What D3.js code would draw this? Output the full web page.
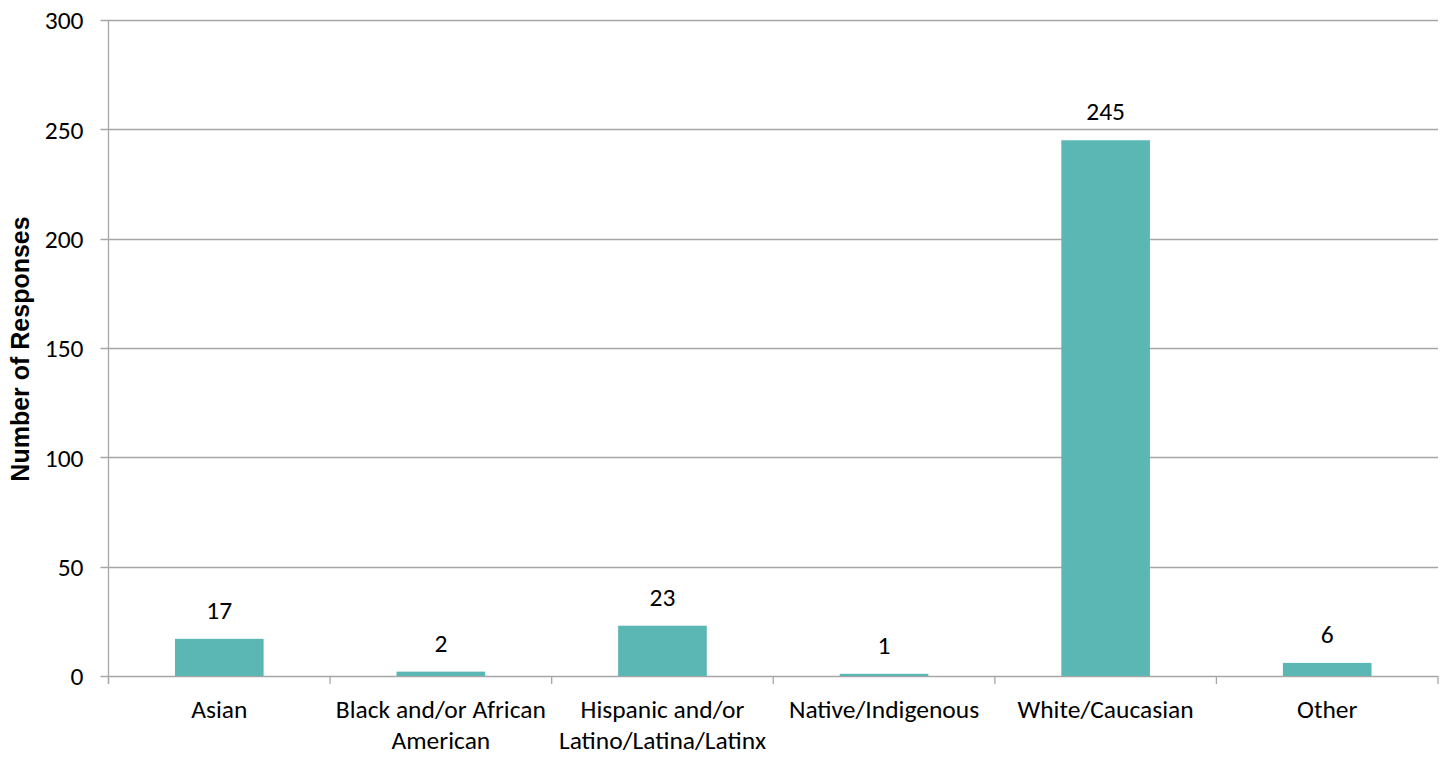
<!DOCTYPE html>
<html>
<head>
<meta charset="utf-8">
<script src="https://cdn.jsdelivr.net/npm/d3@7"></script>
<style>
  html, body { margin: 0; padding: 0; background: #fff; }
  svg { display: block; }
  text { fill: #000; }
</style>
</head>
<body>
<svg id="chart" width="1445" height="757"></svg>
<script>
// Responses by race/ethnicity
const categories = [
  ["Asian"],
  ["Black and/or African", "American"],
  ["Hispanic and/or", "Latino/Latina/Latinx"],
  ["Native/Indigenous"],
  ["White/Caucasian"],
  ["Other"]
];
const values = [17, 2, 23, 1, 245, 6];
const yTicks = [0, 50, 100, 150, 200, 250, 300];
const yTitle = "Number of Responses";

const W = 1445, H = 757;
const margin = { left: 108.5, right: 7, top: 20, bottom: 81 };
const labelFont = "Carlito, Calibri, Lato, sans-serif";
const labelSize = "25.5px";

const svg = d3.select("#chart");
const keys = categories.map((c, i) => i);

const x = d3.scaleBand()
  .domain(keys)
  .range([margin.left, W - margin.right])
  .paddingInner(0.6)
  .paddingOuter(0.3);

const y = d3.scaleLinear()
  .domain([0, 300])
  .range([H - margin.bottom, margin.top]);

const grid = "#a6a6a6";

// horizontal gridlines with small ticks left of the axis
svg.append("g")
  .selectAll("line")
  .data(yTicks)
  .join("line")
  .attr("x1", margin.left - 8)
  .attr("x2", W - margin.right)
  .attr("y1", d => Math.round(y(d)) + 0.5)
  .attr("y2", d => Math.round(y(d)) + 0.5)
  .attr("stroke", grid)
  .attr("stroke-width", 1.3);

// y axis line
svg.append("line")
  .attr("x1", margin.left).attr("x2", margin.left)
  .attr("y1", y(300)).attr("y2", y(0) + 8)
  .attr("stroke", grid).attr("stroke-width", 1.3);

// category boundary ticks on the x axis
const step = x.step();
const bounds = d3.range(categories.length + 1).map(i => margin.left + i * step);
svg.append("g")
  .selectAll("line")
  .data(bounds)
  .join("line")
  .attr("x1", d => d).attr("x2", d => d)
  .attr("y1", y(0)).attr("y2", y(0) + 8)
  .attr("stroke", grid).attr("stroke-width", 1.3);

// y tick labels
svg.append("g")
  .selectAll("text")
  .data(yTicks)
  .join("text")
  .attr("x", margin.left - 25)
  .attr("y", d => y(d))
  .attr("dy", "0.36em")
  .attr("text-anchor", "end")
  .style("font-family", labelFont)
  .style("font-size", labelSize)
  .text(d => d);

// bars
svg.append("g")
  .selectAll("rect")
  .data(values)
  .join("rect")
  .attr("x", (d, i) => x(i))
  .attr("width", x.bandwidth())
  .attr("y", d => y(d))
  .attr("height", d => y(0) - y(d))
  .attr("fill", "#5bb7b4");

// value labels
svg.append("g")
  .selectAll("text")
  .data(values)
  .join("text")
  .attr("x", (d, i) => x(i) + x.bandwidth() / 2)
  .attr("y", d => y(d) - 20)
  .attr("text-anchor", "middle")
  .style("font-family", labelFont)
  .style("font-size", labelSize)
  .text(d => d);

// category labels
const cat = svg.append("g")
  .selectAll("text")
  .data(categories)
  .join("text")
  .attr("text-anchor", "middle")
  .style("font-family", labelFont)
  .style("font-size", labelSize);
cat.each(function (lines, i) {
  const t = d3.select(this);
  lines.forEach((ln, j) => {
    t.append("tspan")
      .attr("x", x(i) + x.bandwidth() / 2)
      .attr("y", 718 + j * 31)
      .text(ln);
  });
});

// y axis title
svg.append("text")
  .attr("transform", "translate(29, 349) rotate(-90)")
  .attr("text-anchor", "middle")
  .style("font-family", "'Liberation Sans', Arial, sans-serif")
  .style("font-weight", "bold")
  .style("font-size", "25px")
  .text(yTitle);
</script>
</body>
</html>
